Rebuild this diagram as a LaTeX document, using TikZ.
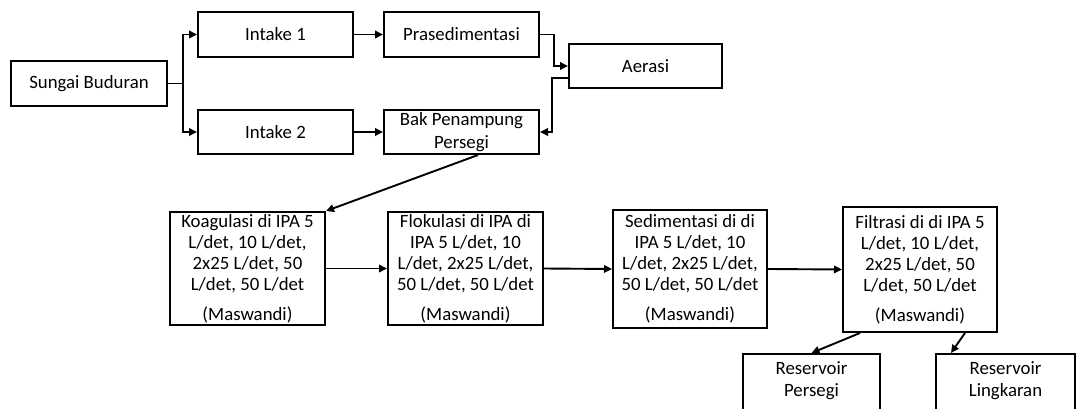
\documentclass[tikz,border=0pt]{standalone}
\usepackage{fontspec}
\setmainfont{Carlito}
\usetikzlibrary{arrows.meta}
\begin{document}
\begin{tikzpicture}[x=1pt,y=-1pt,
  box/.style={draw,line width=2pt,rectangle,inner sep=0pt,align=center,
    font=\fontsize{18.8}{21}\selectfont},
  arr/.style={line width=1.9pt,-{Triangle[length=8pt,width=7.5pt]}},
  txt/.style={inner sep=0pt,align=center,font=\fontsize{18.8}{22}\selectfont}]
\useasboundingbox (0,0) rectangle (1077,409);
\clip (0,0) rectangle (1077,409);

\node[box,minimum width=156pt,minimum height=45pt] (sb) at (89,83.5) {Sungai Buduran};
\node[box,minimum width=155pt,minimum height=45pt] (i1) at (275.5,34.5) {Intake 1};
\node[box,minimum width=155pt,minimum height=44pt] (i2) at (275.5,132) {Intake 2};
\node[box,minimum width=155pt,minimum height=45pt] (pra) at (461.5,34.5) {Prasedimentasi};
\node[box,minimum width=155pt,minimum height=44pt,font=\fontsize{18.8}{23}\selectfont] (bak) at (461.5,132) {Bak Penampung\\Persegi};
\node[box,minimum width=153pt,minimum height=44pt] (aer) at (645.5,66) {Aerasi};

\node[box,minimum width=155pt,minimum height=113pt] (koa) at (247.5,268.5)
  {Koagulasi di IPA 5\\L/det, 10 L/det,\\2x25 L/det, 50\\L/det, 50 L/det\\[9pt](Maswandi)};
\node[box,minimum width=155pt,minimum height=113pt] (flo) at (465.5,268.5)
  {Flokulasi di IPA di\\IPA 5 L/det, 10\\L/det, 2x25 L/det,\\50 L/det, 50 L/det\\[9pt](Maswandi)};
\node[box,minimum width=154pt,minimum height=118pt] (sed) at (690,269)
  {Sedimentasi di di\\IPA 5 L/det, 10\\L/det, 2x25 L/det,\\50 L/det, 50 L/det\\[9pt](Maswandi)};
\node[box,minimum width=154pt,minimum height=125pt] (fil) at (920,269.5)
  {Filtrasi di di IPA 5\\L/det, 10 L/det,\\2x25 L/det, 50\\L/det, 50 L/det\\[9pt](Maswandi)};

\node[box,minimum width=137pt,minimum height=80pt,anchor=north] (rp) at (811.5,353) {};
\node[txt] (rpt) at (811.5,381) {Reservoir\\Persegi};
\node[box,minimum width=139pt,minimum height=80pt,anchor=north] (rl) at (1005.5,353) {};
\node[txt] (rlt) at (1005.5,381) {Reservoir\\Lingkaran};

\draw[arr] (sb.east) -- ++(15,0) |- (i1.west);
\draw[arr] (sb.east) -- ++(15,0) |- (i2.west);
\draw[arr] (i1) -- (pra);
\draw[arr] (i2) -- (bak);
\draw[arr] (pra.east) -- ++(14,0) |- (aer.west);
\draw[arr] ([yshift=-12pt]aer.west) -- ++(-16,0) |- (bak.east);
\draw[arr] ([xshift=16.5pt]bak.south) -- (koa.north east);
\draw[arr] (koa) -- (flo);
\draw[arr] (flo.east) -- (sed.west);
\draw[arr] (sed.east) -- (fil.west);
\draw[arr] ([xshift=-60pt]fil.south) -- (rp.north);
\draw[arr] ([xshift=45pt]fil.south) -- ([xshift=16pt]rl.north west);
\end{tikzpicture}
\end{document}
